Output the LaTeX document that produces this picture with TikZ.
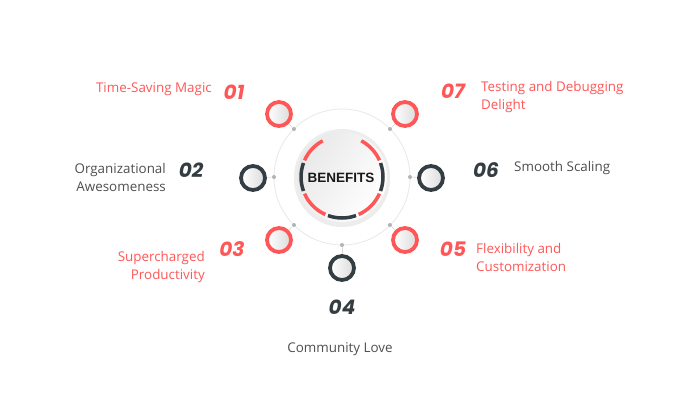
\documentclass[tikz,border=0pt]{standalone}
\usepackage{fontspec}
\setmainfont{Open Sans}
\newfontfamily\numfont{Poppins}
\newfontfamily\titlefont{Liberation Sans}
\usetikzlibrary{shadows}
\definecolor{myred}{HTML}{FF5757}
\definecolor{mydark}{HTML}{333D42}
\definecolor{mytext}{HTML}{4F4F4F}
\definecolor{ringgray}{HTML}{E8E8E8}
\definecolor{dotgray}{HTML}{B0B4B8}
\tikzset{
  smallc/.style={circle, minimum size=24pt, inner sep=0pt, line width=3.8pt, left color=white, right color=black!14},
  redc/.style={smallc, draw=myred},
  darkc/.style={smallc, draw=mydark},
  dotc/.style={circle, fill=dotgray, minimum size=4pt, inner sep=0pt},
  conn/.style={draw=black!15, line width=0.6pt},
  numtxt/.style={font=\numfont\fontsize{20}{22}\selectfont\bfseries\itshape, inner sep=0pt},
  labtxt/.style={font=\fontsize{13.4}{18}\selectfont, inner sep=0pt},
  arcred/.style={draw=myred, line width=3.5pt},
  arcdark/.style={draw=mydark, line width=3.5pt},
}
\begin{document}
\begin{tikzpicture}[x=1pt, y=-1pt]
\useasboundingbox (0,0) rectangle (700,400);
\fill[white] (0,0) rectangle (700,400);
% outer thin ring
\node[circle, draw=ringgray, line width=0.8pt, minimum size=136pt, inner sep=0pt] (ring) at (342,177) {};
% center circle
\node[circle, minimum size=96pt, inner sep=0pt, fill=black!7, drop shadow={opacity=0.15, shadow xshift=0pt, shadow yshift=-2pt}] (c) at (342,177) {};
\node[circle, minimum size=90pt, inner sep=0pt, shading=axis, left color=black!9, right color=white, shading angle=60] (ci) at (342,177) {};
% arcs (visual angle theta -> tikz angle -theta)
\draw[arcred]  ([shift={(-118:41)}]c.center) arc[start angle=-118, end angle=-156, radius=41];
\draw[arcdark] ([shift={(-160:41)}]c.center) arc[start angle=-160, end angle=-200, radius=41];
\draw[arcred]  ([shift={(-204:41)}]c.center) arc[start angle=-204, end angle=-246, radius=41];
\draw[arcdark] ([shift={(-250:41)}]c.center) arc[start angle=-250, end angle=-290, radius=41];
\draw[arcred]  ([shift={(-294:41)}]c.center) arc[start angle=-294, end angle=-336, radius=41];
\draw[arcdark] ([shift={(-340:41)}]c.center) arc[start angle=-340, end angle=-380, radius=41];
\draw[arcred]  ([shift={(-24:41)}]c.center) arc[start angle=-24, end angle=-62, radius=41];
\node[font=\titlefont\fontsize{13.5}{14}\selectfont\bfseries, text=black!90] (title) at (341,178) {BENEFITS};
% dots
\node[dotc] (d1) at (294,129) {};
\node[dotc] (d2) at (274,177) {};
\node[dotc] (d3) at (294,225) {};
\node[dotc] (d4) at (342,245) {};
\node[dotc] (d5) at (390,225) {};
\node[dotc] (d6) at (410,177) {};
\node[dotc] (d7) at (390,129) {};
% small circles
\node[redc]  (n1) at (279,114) {};
\node[darkc] (n2) at (253,178) {};
\node[redc]  (n3) at (279,240) {};
\node[darkc] (n4) at (342,268) {};
\node[redc]  (n5) at (405,240) {};
\node[darkc] (n6) at (431,178) {};
\node[redc]  (n7) at (405,114) {};
% connectors
\draw[conn] (d1) -- (n1);
\draw[conn] (d2) -- (n2);
\draw[conn] (d3) -- (n3);
\draw[conn] (d4) -- (n4);
\draw[conn] (d5) -- (n5);
\draw[conn] (d6) -- (n6);
\draw[conn] (d7) -- (n7);
% numbers
\node[numtxt, text=myred]  (m1) at (234,92) {01};
\node[numtxt, text=mydark] (m2) at (191,170) {02};
\node[numtxt, text=myred]  (m3) at (232,249) {03};
\node[numtxt, text=mydark] (m4) at (342,307) {04};
\node[numtxt, text=myred]  (m5) at (453,249) {05};
\node[numtxt, text=mydark] (m6) at (486,170) {06};
\node[numtxt, text=myred]  (m7) at (453,91) {07};
% labels
\node[labtxt, text=myred, anchor=east] (t1) at (212,89) {Time-Saving Magic};
\node[labtxt, text=mytext, anchor=east, align=right] (t2) at (166,177) {Organizational\\Awesomeness};
\node[labtxt, text=myred, anchor=east, align=right] (t3) at (205,267) {Supercharged\\Productivity};
\node[labtxt, text=mytext] (t4) at (340,349) {Community Love};
\node[labtxt, text=myred, anchor=west, align=left] (t5) at (476,257) {Flexibility and\\Customization};
\node[labtxt, text=mytext, anchor=west] (t6) at (514,168) {Smooth Scaling};
\node[labtxt, text=myred, anchor=west, align=left] (t7) at (481,97) {Testing and Debugging\\Delight};
\end{tikzpicture}
\end{document}
